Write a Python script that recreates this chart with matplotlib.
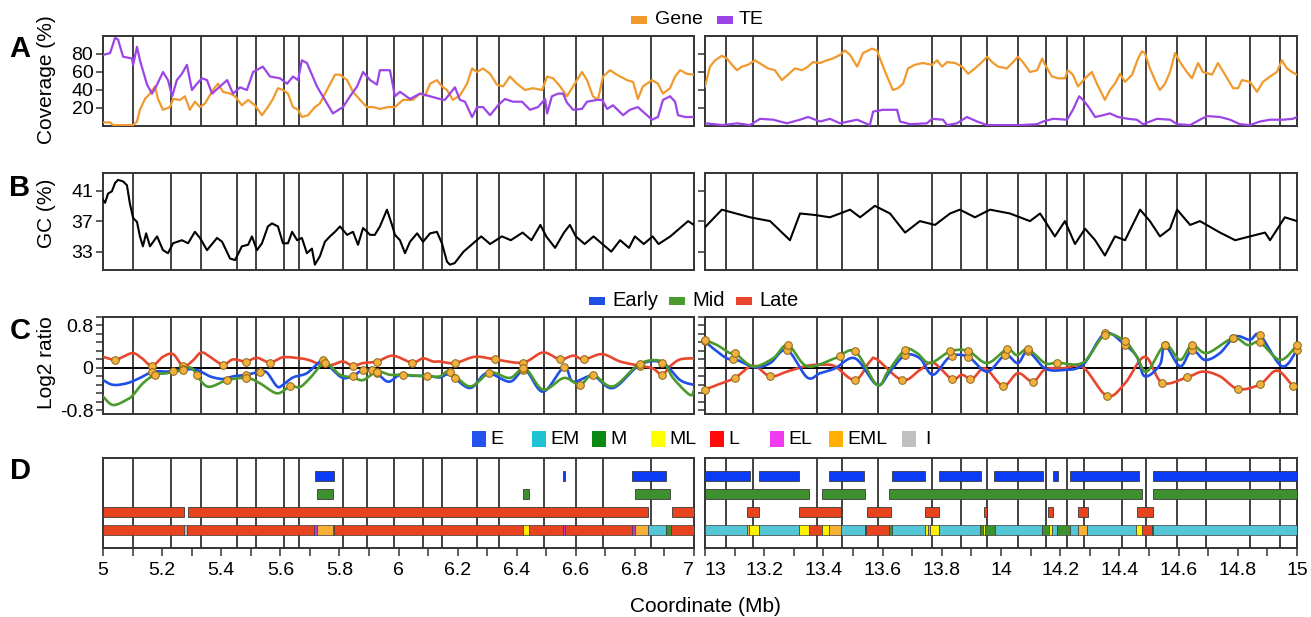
import numpy as np
import matplotlib
matplotlib.use("Agg")
import matplotlib.pyplot as plt
from matplotlib.patches import Rectangle
from matplotlib.ticker import FixedLocator, NullFormatter

plt.rcParams['font.family'] = ['Liberation Sans', 'DejaVu Sans']

# ---------------- data ----------------
boundaries_left = [5.102, 5.230, 5.332, 5.453, 5.518, 5.613, 5.663, 5.812, 5.893, 5.985,
                   6.083, 6.147, 6.266, 6.340, 6.492, 6.601, 6.692, 6.854]
boundaries_right = [13.071, 13.162, 13.378, 13.463, 13.584, 13.767, 13.865, 13.953, 14.057,
                    14.152, 14.223, 14.280, 14.409, 14.490, 14.595, 14.693, 14.841, 14.943]

# Panel A: coverage (%)
gene_left_x = [5.000, 5.024, 5.034, 5.102, 5.115, 5.125, 5.142, 5.159, 5.176, 5.186, 5.203, 5.227, 5.237,
               5.261, 5.277, 5.294, 5.311, 5.328, 5.345, 5.372, 5.389, 5.406, 5.430, 5.447, 5.470, 5.491,
               5.514, 5.538, 5.558, 5.575, 5.592, 5.609, 5.626, 5.643, 5.660, 5.673, 5.694, 5.717, 5.734,
               5.761, 5.785, 5.802, 5.826, 5.846, 5.870, 5.893, 5.914, 5.937, 5.964, 5.988, 6.015, 6.049,
               6.073, 6.090, 6.107, 6.130, 6.147, 6.164, 6.184, 6.208, 6.232, 6.249, 6.266, 6.286, 6.310,
               6.333, 6.354, 6.377, 6.401, 6.428, 6.455, 6.486, 6.503, 6.523, 6.547, 6.570, 6.591, 6.621,
               6.638, 6.658, 6.675, 6.692, 6.716, 6.739, 6.773, 6.794, 6.810, 6.827, 6.858, 6.878, 6.895,
               6.919, 6.936, 6.953, 6.976, 7.000]
gene_left_y = [4, 4, 1, 1, 5, 18, 30, 36, 44, 30, 18, 21, 30,
               29, 33, 18, 27, 21, 25, 40, 47, 38, 36, 33, 23, 29,
               23, 12, 21, 30, 42, 40, 36, 21, 18, 10, 12, 21, 25,
               42, 57, 57, 51, 38, 29, 21, 21, 19, 21, 21, 29, 29,
               36, 34, 47, 51, 44, 40, 29, 34, 47, 64, 60, 64, 58,
               46, 44, 55, 47, 40, 42, 40, 55, 53, 44, 33, 44, 60,
               51, 33, 29, 55, 62, 57, 51, 49, 30, 44, 51, 47, 36,
               42, 55, 62, 58, 57]
te_left_x = [5.000, 5.024, 5.041, 5.051, 5.058, 5.068, 5.098, 5.102, 5.115, 5.125, 5.149, 5.166, 5.183,
             5.203, 5.220, 5.234, 5.250, 5.267, 5.284, 5.301, 5.318, 5.335, 5.352, 5.369, 5.396, 5.420,
             5.440, 5.464, 5.487, 5.508, 5.541, 5.565, 5.599, 5.623, 5.643, 5.660, 5.673, 5.690, 5.724,
             5.751, 5.778, 5.812, 5.836, 5.860, 5.880, 5.904, 5.927, 5.937, 5.971, 5.988, 6.005, 6.039,
             6.073, 6.107, 6.140, 6.157, 6.174, 6.191, 6.208, 6.225, 6.249, 6.266, 6.286, 6.310, 6.337,
             6.360, 6.387, 6.418, 6.445, 6.472, 6.496, 6.503, 6.519, 6.540, 6.557, 6.570, 6.591, 6.621,
             6.638, 6.672, 6.689, 6.706, 6.726, 6.760, 6.783, 6.810, 6.834, 6.858, 6.878, 6.895, 6.919,
             6.936, 6.946, 6.970, 7.000]
te_left_y = [79, 81, 98, 96, 88, 77, 75, 68, 88, 73, 46, 36, 46,
             60, 51, 33, 51, 58, 68, 40, 47, 53, 51, 36, 44, 51,
             36, 43, 40, 60, 66, 55, 53, 47, 55, 51, 73, 70, 44,
             29, 14, 21, 33, 44, 60, 51, 46, 62, 62, 33, 38, 30,
             36, 33, 30, 29, 36, 43, 29, 27, 10, 21, 21, 12, 23,
             30, 27, 27, 18, 21, 30, 14, 33, 36, 36, 26, 18, 19,
             27, 29, 29, 19, 23, 12, 18, 21, 14, 7, 10, 29, 33,
             27, 12, 10, 10]
gene_right_x = [13.000, 13.017, 13.034, 13.057, 13.074, 13.091, 13.108, 13.125, 13.145, 13.169, 13.193,
                13.213, 13.236, 13.260, 13.280, 13.304, 13.328, 13.348, 13.365, 13.389, 13.412, 13.432,
                13.456, 13.473, 13.490, 13.514, 13.534, 13.564, 13.581, 13.591, 13.615, 13.635, 13.652,
                13.669, 13.686, 13.709, 13.736, 13.767, 13.784, 13.801, 13.818, 13.845, 13.868, 13.889,
                13.912, 13.936, 13.953, 13.970, 13.990, 14.020, 14.041, 14.057, 14.074, 14.098, 14.122,
                14.139, 14.149, 14.172, 14.193, 14.216, 14.226, 14.243, 14.260, 14.284, 14.307, 14.324,
                14.351, 14.368, 14.385, 14.402, 14.419, 14.443, 14.463, 14.476, 14.486, 14.503, 14.527,
                14.537, 14.554, 14.571, 14.588, 14.605, 14.628, 14.645, 14.666, 14.682, 14.713, 14.733,
                14.757, 14.784, 14.801, 14.814, 14.841, 14.865, 14.885, 14.909, 14.932, 14.949, 14.966,
                14.983, 15.000]
gene_right_y = [44, 66, 73, 78, 75, 68, 62, 66, 68, 73, 68,
                64, 62, 51, 57, 64, 62, 66, 71, 70, 73, 75,
                79, 84, 79, 66, 81, 86, 84, 75, 55, 40, 42,
                47, 64, 68, 70, 68, 73, 66, 71, 70, 66, 58,
                64, 71, 77, 71, 66, 64, 71, 77, 71, 60, 62,
                75, 68, 55, 53, 53, 62, 57, 44, 53, 60, 47,
                29, 40, 47, 58, 49, 57, 75, 83, 81, 64, 46,
                40, 47, 60, 81, 71, 60, 53, 70, 60, 57, 70,
                57, 42, 42, 51, 49, 38, 49, 55, 60, 73, 64,
                60, 57]
te_right_x = [13.000, 13.061, 13.108, 13.152, 13.186, 13.230, 13.277, 13.321, 13.348, 13.389, 13.422,
              13.456, 13.514, 13.557, 13.568, 13.601, 13.649, 13.659, 13.693, 13.750, 13.767, 13.804,
              13.818, 13.851, 13.885, 13.919, 13.953, 14.007, 14.064, 14.122, 14.142, 14.176, 14.223,
              14.243, 14.264, 14.277, 14.294, 14.318, 14.345, 14.368, 14.395, 14.429, 14.459, 14.480,
              14.527, 14.571, 14.595, 14.639, 14.672, 14.696, 14.740, 14.774, 14.807, 14.841, 14.875,
              14.909, 14.953, 14.986, 15.000]
te_right_y = [3, 1, 3, 1, 8, 7, 3, 7, 10, 5, 8,
              3, 7, 1, 16, 18, 18, 5, 2, 3, 8, 7,
              1, 3, 10, 5, 1, 1, 1, 2, 5, 8, 7,
              18, 33, 29, 22, 10, 12, 14, 10, 8, 7, 2,
              8, 7, 2, 1, 7, 11, 10, 7, 2, 1, 5,
              7, 7, 8, 10]

# Panel B: GC (%)
gc_left_x = [5.000, 5.007, 5.017, 5.030, 5.041, 5.051, 5.068, 5.081, 5.091, 5.102, 5.115, 5.125, 5.135,
             5.146, 5.159, 5.183, 5.203, 5.220, 5.237, 5.267, 5.288, 5.311, 5.328, 5.352, 5.386, 5.403,
             5.430, 5.447, 5.470, 5.491, 5.504, 5.521, 5.538, 5.558, 5.572, 5.592, 5.609, 5.626, 5.640,
             5.657, 5.673, 5.690, 5.707, 5.717, 5.734, 5.751, 5.768, 5.785, 5.802, 5.826, 5.846, 5.863,
             5.880, 5.904, 5.920, 5.937, 5.961, 5.978, 5.988, 6.005, 6.022, 6.039, 6.063, 6.083, 6.107,
             6.130, 6.147, 6.164, 6.174, 6.190, 6.220, 6.250, 6.280, 6.310, 6.350, 6.380, 6.420, 6.450,
             6.480, 6.500, 6.530, 6.560, 6.580, 6.600, 6.630, 6.660, 6.690, 6.720, 6.750, 6.780, 6.800,
             6.830, 6.860, 6.880, 6.920, 6.950, 6.980, 7.000]
gc_left_y = [39.8, 39.4, 40.6, 40.9, 42.0, 42.4, 42.2, 41.7, 39.3, 37.4, 36.9, 35.0, 33.7,
             35.4, 33.7, 35.0, 33.2, 32.8, 34.1, 34.5, 34.1, 35.6, 34.8, 33.2, 34.8, 34.3,
             32.1, 31.9, 33.7, 33.9, 35.0, 33.2, 34.1, 36.3, 36.7, 36.3, 34.1, 34.1, 35.6,
             34.5, 34.8, 32.8, 33.4, 31.3, 32.4, 34.3, 35.0, 35.6, 36.3, 35.2, 35.6, 33.9,
             36.1, 35.2, 35.2, 36.3, 38.5, 36.5, 35.2, 34.5, 32.8, 34.3, 35.4, 34.3, 35.4,
             35.6, 34.1, 31.7, 31.3, 31.5, 33.0, 34.0, 35.0, 34.0, 35.0, 34.5, 35.5, 34.5,
             36.5, 35.0, 33.5, 35.5, 36.5, 35.0, 34.0, 35.0, 34.0, 33.0, 34.5, 33.5, 35.0,
             34.0, 35.0, 34.0, 35.0, 36.0, 37.0, 36.5]
gc_right_x = [13.000, 13.057, 13.152, 13.220, 13.287, 13.321, 13.372, 13.422, 13.490, 13.524, 13.574,
              13.625, 13.676, 13.726, 13.777, 13.828, 13.861, 13.912, 13.963, 14.030, 14.098, 14.132,
              14.182, 14.216, 14.250, 14.284, 14.318, 14.351, 14.385, 14.419, 14.470, 14.503, 14.537,
              14.571, 14.595, 14.639, 14.672, 14.740, 14.791, 14.841, 14.892, 14.909, 14.959, 15.000]
gc_right_y = [36.2, 38.5, 37.5, 37.0, 34.5, 38.0, 37.8, 37.5, 38.5, 37.5, 39.0,
              38.0, 35.5, 37.0, 36.5, 38.0, 38.5, 37.5, 38.5, 38.0, 37.0, 38.0,
              35.0, 37.0, 34.0, 36.0, 34.5, 32.5, 35.0, 34.5, 38.5, 37.0, 35.0,
              36.0, 38.5, 36.5, 37.0, 35.5, 34.5, 35.0, 35.5, 34.5, 37.5, 37.0]

# Panel C: log2 ratio
late_left_x = [5.000, 5.041, 5.068, 5.102, 5.132, 5.166, 5.203, 5.237, 5.271, 5.301, 5.332, 5.362, 5.406,
               5.440, 5.484, 5.521, 5.565, 5.609, 5.667, 5.701, 5.745, 5.778, 5.812, 5.846, 5.880, 5.927,
               5.981, 6.046, 6.083, 6.117, 6.140, 6.191, 6.259, 6.327, 6.421, 6.489, 6.547, 6.591, 6.628,
               6.689, 6.750, 6.817, 6.861, 6.892, 6.919, 6.953, 7.000]
late_left_y = [0.21, 0.15, 0.21, 0.28, 0.18, 0.04, 0.21, 0.26, 0.03, 0.12, 0.29, 0.21, 0.06,
               0.16, 0.12, 0.19, 0.10, 0.20, 0.18, 0.14, 0.04, 0.06, 0.12, 0.04, 0.09, 0.12,
               0.23, 0.10, 0.18, 0.12, 0.12, 0.09, 0.21, 0.16, 0.10, 0.29, 0.16, 0.23, 0.16,
               0.26, 0.12, 0.04, -0.01, -0.13, 0.03, 0.16, 0.18]
early_left_x = [5.000, 5.034, 5.081, 5.125, 5.169, 5.217, 5.271, 5.318, 5.362, 5.406, 5.440, 5.487, 5.531,
                5.555, 5.589, 5.609, 5.643, 5.690, 5.745, 5.778, 5.812, 5.846, 5.880, 5.920, 5.964, 6.005,
                6.049, 6.096, 6.140, 6.174, 6.242, 6.299, 6.377, 6.428, 6.489, 6.560, 6.591, 6.658, 6.726,
                6.817, 6.892, 6.953, 7.000]
early_left_y = [-0.23, -0.32, -0.29, -0.19, -0.07, -0.07, -0.03, -0.04, -0.16, -0.21, -0.16, -0.13, -0.07,
                -0.09, -0.35, -0.32, -0.18, -0.10, 0.15, -0.04, -0.19, -0.15, -0.04, -0.07, -0.26, -0.13,
                -0.15, -0.15, -0.18, -0.13, -0.38, -0.10, -0.26, -0.04, -0.45, 0.01, -0.26, -0.15, -0.38,
                0.06, 0.10, -0.23, -0.32]
mid_left_x = [5.000, 5.034, 5.081, 5.102, 5.135, 5.176, 5.217, 5.271, 5.301, 5.352, 5.420, 5.487, 5.531,
              5.589, 5.633, 5.667, 5.701, 5.751, 5.802, 5.846, 5.880, 5.927, 5.971, 6.015, 6.096, 6.140,
              6.174, 6.242, 6.310, 6.377, 6.428, 6.489, 6.560, 6.614, 6.658, 6.726, 6.817, 6.892, 6.929,
              6.986, 7.000]
mid_left_y = [-0.54, -0.70, -0.60, -0.51, -0.29, -0.13, -0.10, -0.04, -0.01, -0.35, -0.23, -0.19, -0.29,
              -0.48, -0.35, -0.36, -0.19, 0.09, -0.13, -0.18, -0.23, -0.07, -0.13, -0.13, -0.16, -0.16,
              -0.07, -0.35, -0.09, -0.19, -0.01, -0.41, -0.19, -0.32, -0.13, -0.35, 0.08, 0.12, -0.19,
              -0.51, -0.41]
early_right_x = [13.000, 13.027, 13.074, 13.108, 13.169, 13.220, 13.277, 13.345, 13.389, 13.439, 13.507,
                 13.581, 13.625, 13.676, 13.726, 13.770, 13.828, 13.889, 13.953, 14.014, 14.057, 14.091,
                 14.149, 14.209, 14.277, 14.351, 14.419, 14.459, 14.486, 14.537, 14.554, 14.605, 14.645,
                 14.689, 14.740, 14.791, 14.841, 14.875, 14.949, 15.000]
early_right_y = [0.50, 0.37, 0.18, 0.15, 0.01, 0.09, 0.34, -0.18, -0.10, -0.01, 0.18,
                 -0.32, -0.07, 0.24, 0.18, -0.13, 0.21, 0.21, -0.07, 0.24, 0.09, 0.31,
                 -0.01, -0.04, 0.06, 0.65, 0.43, 0.21, -0.16, 0.06, 0.43, 0.03, 0.34,
                 0.15, 0.28, 0.59, 0.53, 0.62, 0.03, 0.34]
mid_right_x = [13.000, 13.041, 13.084, 13.101, 13.162, 13.230, 13.280, 13.345, 13.439, 13.507, 13.581,
               13.618, 13.676, 13.716, 13.760, 13.828, 13.889, 13.953, 14.020, 14.054, 14.091, 14.149,
               14.189, 14.277, 14.351, 14.419, 14.459, 14.493, 14.554, 14.605, 14.645, 14.696, 14.784,
               14.834, 14.875, 14.943, 15.000]
mid_right_y = [0.53, 0.43, 0.28, 0.28, 0.03, 0.18, 0.43, 0.03, 0.18, 0.31, -0.32,
               -0.07, 0.34, 0.28, 0.09, 0.31, 0.32, 0.09, 0.35, 0.24, 0.35, 0.09,
               0.10, 0.10, 0.62, 0.50, 0.21, -0.07, 0.43, 0.15, 0.43, 0.28, 0.56,
               0.43, 0.48, 0.15, 0.43]
late_right_x = [13.000, 13.041, 13.101, 13.162, 13.220, 13.277, 13.345, 13.399, 13.439, 13.507, 13.557,
                13.581, 13.666, 13.726, 13.770, 13.834, 13.868, 13.902, 13.946, 14.007, 14.057, 14.108,
                14.149, 14.209, 14.277, 14.358, 14.419, 14.486, 14.544, 14.628, 14.682, 14.740, 14.801,
                14.875, 14.932, 14.986, 15.000]
late_right_y = [-0.41, -0.32, -0.19, 0.04, -0.16, -0.07, 0.04, 0.06, 0.03, -0.23, 0.12,
                0.16, -0.23, -0.04, 0.10, -0.21, -0.13, -0.21, -0.01, -0.34, -0.10, -0.26,
                -0.03, -0.01, 0.01, -0.53, -0.29, 0.21, -0.28, -0.18, -0.07, -0.16, -0.40,
                -0.31, -0.05, -0.34, -0.35]

dots_late_left = [5.041, 5.166, 5.271, 5.406, 5.484, 5.565, 5.846, 5.927, 6.046, 6.191, 6.327, 6.421,
                  6.547, 6.628, 6.817, 6.892]
dots_early_left = [5.166, 5.237, 5.271, 5.484, 5.531, 5.745, 5.846, 5.880, 5.910, 5.927, 6.191, 6.306,
                   6.421, 6.560, 6.892]
dots_mid_left = [5.176, 5.271, 5.318, 5.420, 5.484, 5.633, 5.751, 5.927, 6.015, 6.096, 6.174, 6.421,
                 6.614, 6.658, 6.817]
dots_early_right = [13.000, 13.095, 13.277, 13.676, 13.834, 13.889, 14.014, 14.091, 14.351, 14.419,
                    14.554, 14.645, 14.784, 14.875, 15.000]
dots_mid_right = [13.000, 13.101, 13.280, 13.456, 13.507, 13.676, 13.828, 13.889, 14.020, 14.091,
                  14.189, 14.351, 14.419, 14.554, 14.645, 14.784, 14.875, 15.000]
dots_late_right = [13.000, 13.101, 13.220, 13.507, 13.666, 13.834, 13.895, 14.007, 14.108, 14.358,
                   14.544, 14.628, 14.801, 14.875, 14.986]

# Panel D: replication timing segments
e_left = [(5.717, 5.782), (6.558, 6.562), (6.790, 6.905)]
m_left = [(5.725, 5.779), (6.421, 6.442), (6.800, 6.918)]
l_left = [(5.000, 5.274), (5.288, 6.844), (6.926, 7.000)]
comb_left = [(5.000, 5.274, 'L'), (5.274, 5.285, 'I'), (5.285, 5.715, 'L'), (5.715, 5.725, 'EL'),
             (5.725, 5.779, 'EML'), (5.779, 5.783, 'ML'), (5.783, 6.421, 'L'), (6.421, 6.442, 'ML'),
             (6.442, 6.556, 'L'), (6.556, 6.562, 'EL'), (6.562, 6.790, 'L'), (6.790, 6.800, 'EL'),
             (6.800, 6.844, 'EML'), (6.844, 6.905, 'EM'), (6.905, 6.922, 'M'), (6.922, 7.000, 'L')]
e_right = [(13.000, 13.152), (13.182, 13.318), (13.419, 13.537), (13.632, 13.743), (13.791, 13.932),
           (13.976, 14.142), (14.176, 14.193), (14.233, 14.466), (14.514, 15.000)]
m_right = [(13.000, 13.351), (13.395, 13.541), (13.622, 14.476), (14.514, 15.000)]
l_right = [(13.142, 13.182), (13.318, 13.459), (13.547, 13.628), (13.743, 13.791), (13.943, 13.953),
           (14.159, 14.176), (14.259, 14.294), (14.459, 14.514)]
comb_right = [(13.000, 13.141, 'EM'), (13.141, 13.149, 'EML'), (13.149, 13.182, 'ML'),
              (13.182, 13.317, 'EM'), (13.317, 13.350, 'ML'), (13.350, 13.394, 'L'),
              (13.394, 13.420, 'ML'), (13.420, 13.459, 'EML'), (13.459, 13.539, 'EM'),
              (13.539, 13.545, 'M'), (13.545, 13.623, 'L'), (13.623, 13.633, 'M'),
              (13.633, 13.743, 'EM'), (13.743, 13.755, 'ML'), (13.755, 13.760, 'EML'),
              (13.760, 13.791, 'ML'), (13.791, 13.929, 'EM'), (13.929, 13.939, 'M'),
              (13.939, 13.945, 'ML'), (13.945, 13.979, 'M'), (13.979, 14.140, 'EM'),
              (14.140, 14.162, 'M'), (14.162, 14.172, 'ML'), (14.172, 14.189, 'EM'),
              (14.189, 14.234, 'M'), (14.234, 14.260, 'EM'), (14.260, 14.291, 'EML'),
              (14.291, 14.457, 'EM'), (14.457, 14.476, 'ML'), (14.476, 14.511, 'L'),
              (14.511, 14.514, 'M'), (14.514, 15.000, 'EM')]

timing_labels = ['E', 'EM', 'M', 'ML', 'L', 'EL', 'EML', 'I']

# ---------------- style ----------------
C_GENE = '#F09A2E'
C_TE = '#9C45E6'
C_EARLY = '#1F4FE6'
C_MID = '#4A9A2E'
C_LATE = '#E8472E'
SEG_COL = {'E': '#0A3CF5', 'EM': '#55C6D6', 'M': '#3E8F2E', 'ML': '#FFF200', 'L': '#E8431F',
           'EL': '#C23CD8', 'EML': '#F5B035', 'I': '#BEBEBE'}
LEG_COL = {'E': '#2452EC', 'EM': '#1EC4D4', 'M': '#0A8A10', 'ML': '#FFFF00', 'L': '#FF0A0A',
           'EL': '#F03CF0', 'EML': '#FFB000', 'I': '#C0C0C0'}
FRAME = '#333333'
TICK_FS = 14
LABEL_FS = 15

W, H = 1311, 617
fig = plt.figure(figsize=(W / 100, H / 100), dpi=100)


def fx(px):
    return px / W


def fy(py):
    return 1 - py / H


cols = {'L': (103, 694), 'R': (705, 1297)}
rows = {'A': (36, 126), 'B': (173, 270), 'C': (317, 414), 'D': (458, 548)}


def make_ax(col, row):
    x0, x1 = cols[col]
    y0, y1 = rows[row]
    ax = fig.add_axes([fx(x0), fy(y1), (x1 - x0) / W, (y1 - y0) / H])
    for s in ax.spines.values():
        s.set_linewidth(1.4)
        s.set_color(FRAME)
    ax.tick_params(axis='both', direction='out', length=5, width=1.1, color=FRAME,
                   labelsize=TICK_FS, pad=2)
    ax.tick_params(axis='x', bottom=False, labelbottom=False)
    return ax


def catmull(x, y, n=12):
    x = np.asarray(x, float)
    y = np.asarray(y, float)
    xs, ys = [], []
    P = np.column_stack([x, y])
    P = np.vstack([P[0], P, P[-1]])
    t = np.linspace(0, 1, n, endpoint=False)
    for i in range(1, len(P) - 2):
        p0, p1, p2, p3 = P[i - 1], P[i], P[i + 1], P[i + 2]
        for tt in t:
            t2, t3 = tt * tt, tt * tt * tt
            pt = 0.5 * ((2 * p1) + (-p0 + p2) * tt + (2 * p0 - 5 * p1 + 4 * p2 - p3) * t2
                        + (-p0 + 3 * p1 - 3 * p2 + p3) * t3)
            xs.append(pt[0])
            ys.append(pt[1])
    xs.append(x[-1])
    ys.append(y[-1])
    return np.array(xs), np.array(ys)


def vlines(ax, bnds):
    for b in bnds:
        ax.axvline(b, color='#222222', lw=1.2, zorder=1)


data = {
    'L': dict(xlim=(5, 7), bnds=boundaries_left,
              gene=(gene_left_x, gene_left_y), te=(te_left_x, te_left_y),
              gc=(gc_left_x, gc_left_y),
              early=(early_left_x, early_left_y), mid=(mid_left_x, mid_left_y),
              late=(late_left_x, late_left_y),
              dots=dict(early=dots_early_left, mid=dots_mid_left, late=dots_late_left),
              segE=e_left, segM=m_left, segL=l_left, comb=comb_left),
    'R': dict(xlim=(13, 15), bnds=boundaries_right,
              gene=(gene_right_x, gene_right_y), te=(te_right_x, te_right_y),
              gc=(gc_right_x, gc_right_y),
              early=(early_right_x, early_right_y), mid=(mid_right_x, mid_right_y),
              late=(late_right_x, late_right_y),
              dots=dict(early=dots_early_right, mid=dots_mid_right, late=dots_late_right),
              segE=e_right, segM=m_right, segL=l_right, comb=comb_right),
}

for col, d in data.items():
    lab = (col == 'L')
    # ---- A
    ax = make_ax(col, 'A')
    ax.set_xlim(*d['xlim'])
    ax.set_ylim(0, 100)
    vlines(ax, d['bnds'])
    ax.plot(*d['gene'], color=C_GENE, lw=1.6, zorder=3)
    ax.plot(*d['te'], color=C_TE, lw=1.6, zorder=3)
    ax.set_yticks([20, 40, 60, 80])
    if not lab:
        ax.set_yticklabels([])
    # ---- B
    ax = make_ax(col, 'B')
    ax.set_xlim(*d['xlim'])
    ax.set_ylim(30.6, 43.3)
    vlines(ax, d['bnds'])
    ax.plot(*d['gc'], color='black', lw=1.5, zorder=3)
    ax.set_yticks([33, 37, 41])
    if not lab:
        ax.set_yticklabels([])
    # ---- C
    ax = make_ax(col, 'C')
    ax.set_xlim(*d['xlim'])
    ax.set_ylim(-0.87, 0.96)
    vlines(ax, d['bnds'])
    ax.axhline(0, color='black', lw=1.4, zorder=2)
    for key, c in (('late', C_LATE), ('early', C_EARLY), ('mid', C_MID)):
        sx, sy = catmull(*d[key])
        ax.plot(sx, sy, color=c, lw=1.9, zorder=3)
    for key in ('late', 'early', 'mid'):
        sx, sy = catmull(*d[key], n=40)
        dx = np.asarray(d['dots'][key])
        dy = np.interp(dx, sx, sy)
        ax.plot(dx, dy, 'o', ms=5.5, mfc='#F2B03C', mec='#8A6418', mew=0.7, zorder=5, clip_on=False)
    ax.set_yticks([-0.8, 0, 0.8])
    ax.yaxis.set_minor_locator(FixedLocator(np.arange(-0.8, 0.97, 0.16)))
    ax.tick_params(axis='y', which='minor', length=5, width=1.1, color=FRAME)
    if lab:
        ax.set_yticklabels(['-0.8', '0', '0.8'])
    else:
        ax.set_yticklabels([])
    # ---- D
    ax = make_ax(col, 'D')
    ax.set_xlim(*d['xlim'])
    ax.set_ylim(0, 5)
    vlines(ax, d['bnds'])
    hgt = 0.55
    for row_y, segs, c in ((4, d['segE'], SEG_COL['E']), (3, d['segM'], SEG_COL['M']),
                           (2, d['segL'], SEG_COL['L'])):
        for s0, s1 in segs:
            ax.add_patch(Rectangle((s0, row_y - hgt / 2), s1 - s0, hgt, facecolor=c,
                                   edgecolor='#3a3a3a', lw=0.6, zorder=3))
    for s0, s1, k in d['comb']:
        ax.add_patch(Rectangle((s0, 1 - hgt / 2), s1 - s0, hgt, facecolor=SEG_COL[k],
                               edgecolor='#3a3a3a', lw=0.5, zorder=3))
    ax.set_yticks([])
    x0, x1 = d['xlim']
    major = np.round(np.arange(x0, x1 + 0.001, 0.2), 1)
    ax.set_xticks(major)
    ax.set_xticklabels([f'{v:g}' for v in major])
    ax.xaxis.set_minor_locator(FixedLocator(np.round(np.arange(x0, x1 + 0.001, 0.1), 1)))
    ax.xaxis.set_minor_formatter(NullFormatter())
    ax.tick_params(axis='x', which='both', bottom=True, labelbottom=True, length=6, width=1.1,
                   color=FRAME, labelsize=TICK_FS, pad=4)
    tl = ax.get_xticklabels()
    if lab:
        tl[-1].set_horizontalalignment('right')
    else:
        tl[0].set_horizontalalignment('left')

# ---------------- text ----------------
for letter, y in (('A', 49), ('B', 188), ('C', 331), ('D', 471)):
    fig.text(fx(20), fy(y), letter, fontsize=21, fontweight='bold', ha='center', va='center')
for label, y in (('Coverage (%)', 80), ('GC (%)', 213), ('Log2 ratio', 363)):
    fig.text(fx(46), fy(y), label, fontsize=LABEL_FS, rotation=90, ha='center', va='center')
fig.text(fx(705), fy(607), 'Coordinate (Mb)', fontsize=LABEL_FS, ha='center', va='center')


def leg_entry(px0, py, wpx, hpx, color, text, tx, fs):
    fig.add_artist(Rectangle((fx(px0), fy(py + hpx / 2)), wpx / W, hpx / H, facecolor=color,
                             edgecolor='none', transform=fig.transFigure))
    fig.text(fx(tx), fy(py), text, fontsize=fs, ha='left', va='center')


leg_entry(631, 20, 16, 8, C_GENE, 'Gene', 655, 14)
leg_entry(717, 20, 16, 8, C_TE, 'TE', 739, 14)
leg_entry(589, 301, 16, 8, C_EARLY, 'Early', 612, 14.5)
leg_entry(669, 301, 16, 8, C_MID, 'Mid', 692, 14.5)
leg_entry(736, 301, 16, 8, C_LATE, 'Late', 759, 14.5)
leg_x = [472, 532, 592, 651, 710, 770, 829, 902]
for k, px0 in zip(timing_labels, leg_x):
    leg_entry(px0, 439, 14, 16, LEG_COL[k], k, px0 + 18 + (5 if k == 'I' else 0), 14)

fig.savefig('out.png', dpi=100)
